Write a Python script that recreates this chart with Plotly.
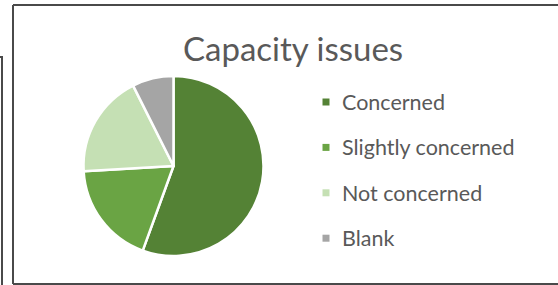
import plotly.graph_objects as go

W, H = 558, 285
title_text = "Capacity issues"
labels = ["Concerned", "Slightly concerned", "Not concerned", "Blank"]
values = [15, 5, 5, 2]
colors = ["#548235", "#6AA444", "#C5E0B4", "#A5A5A5"]

fig = go.Figure()

# pie geometry (pixels)
cx, cy, r = 173.5, 166, 90
fig.add_trace(go.Pie(
    labels=labels, values=values, sort=False, direction="clockwise", rotation=0,
    marker=dict(colors=colors, line=dict(color="white", width=2.5)),
    textinfo="none", hoverinfo="label+percent", showlegend=False,
    domain=dict(x=[(cx - r) / W, (cx + r) / W], y=[(H - cy - r) / H, (H - cy + r) / H]),
))

def px(x):
    return x / W

def py(y):
    return 1 - y / H

shapes = []
annotations = []
# legend (custom, to match the reference's small square markers)
leg_x = 326
leg_y0 = 102
leg_dy = 45.4
for i, (lab, col) in enumerate(zip(labels, colors)):
    y = leg_y0 + i * leg_dy
    shapes.append(dict(type="rect", xref="paper", yref="paper",
                       x0=px(leg_x - 3.5), x1=px(leg_x + 3.5),
                       y0=py(y + 3.5), y1=py(y - 3.5),
                       fillcolor=col, line=dict(width=0)))
    annotations.append(dict(text=lab, xref="paper", yref="paper",
                            x=px(340), y=py(y), xanchor="left", yanchor="middle",
                            showarrow=False,
                            font=dict(family="Lato", size=21.5, color="#595959")))

annotations.append(dict(text=title_text, xref="paper", yref="paper",
                        x=px(293), y=py(48), xanchor="center", yanchor="middle",
                        showarrow=False,
                        font=dict(family="Lato", size=33, color="#595959")))

# frame lines (open on the right, as in the reference)
line_col = "#4a4a4a"
for x0, y0, x1, y1 in [(13, 5, W, 5), (13, 5, 13, 284), (13, 284, W, 284),
                       (2, 57, 2, H), (0, 57, 3, 57)]:
    shapes.append(dict(type="line", xref="paper", yref="paper",
                       x0=px(x0), y0=py(y0), x1=px(x1), y1=py(y1),
                       line=dict(color=line_col, width=2)))

fig.update_layout(
    width=W, height=H, margin=dict(l=0, r=0, t=0, b=0),
    paper_bgcolor="white", plot_bgcolor="white",
    shapes=shapes, annotations=annotations,
)

fig.write_html("out.html", config={"displayModeBar": False},
               post_script="document.body.style.margin='0';document.body.style.overflow='hidden';")
